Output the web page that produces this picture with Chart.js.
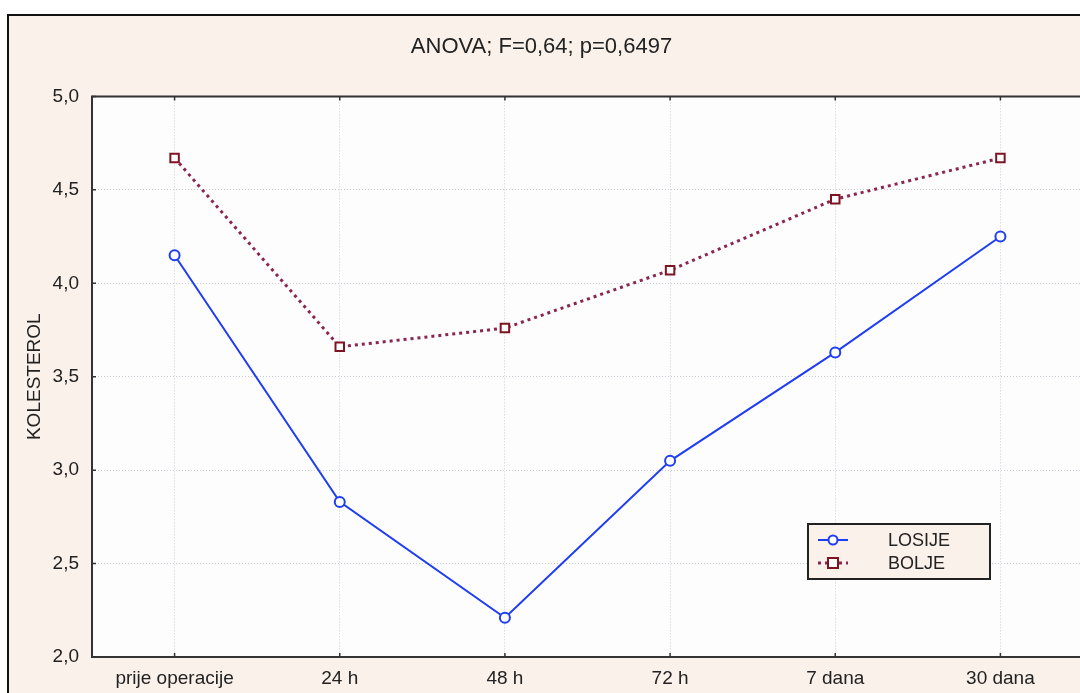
<!DOCTYPE html>
<html>
<head>
<meta charset="utf-8">
<script src="https://cdn.jsdelivr.net/npm/chart.js@4"></script>
<style>
  html, body { margin: 0; padding: 0; background: #fff; overflow: hidden; }
  #wrap { position: absolute; left: 0; top: 0; width: 1080px; height: 693px; overflow: hidden; }
</style>
</head>
<body>
<div id="wrap"><canvas id="myChart" width="1100" height="693"></canvas></div>
<script>
const categories = ['prije operacije', '24 h', '48 h', '72 h', '7 dana', '30 dana'];
const losije = [4.15, 2.83, 2.21, 3.05, 3.63, 4.25];
const bolje = [4.67, 3.66, 3.76, 4.07, 4.45, 4.67];
const yTicks = [2.0, 2.5, 3.0, 3.5, 4.0, 4.5, 5.0];

const BEIGE = '#faf1ea';
const FONT = 'Arial, "Liberation Sans", sans-serif';

// background, plot frame and inward tick marks
const framePlugin = {
  id: 'frame',
  beforeDraw(chart) {
    const c = chart.ctx;
    const a = chart.chartArea;
    c.save();
    c.fillStyle = '#fff';
    c.fillRect(0, 0, chart.width, chart.height);
    c.fillStyle = BEIGE;
    c.fillRect(8, 15, chart.width, chart.height);
    c.strokeStyle = '#111';
    c.lineWidth = 2;
    c.beginPath();
    c.moveTo(8, chart.height);
    c.lineTo(8, 15);
    c.lineTo(chart.width, 15);
    c.stroke();
    c.fillStyle = '#fdfdfd';
    c.fillRect(a.left, a.top, a.right - a.left, a.bottom - a.top);
    c.restore();
  },
  afterDatasetsDraw(chart) {
    const c = chart.ctx;
    const a = chart.chartArea;
    const x = chart.scales.x, y = chart.scales.y;
    c.save();
    c.strokeStyle = '#333';
    c.lineWidth = 2;
    c.beginPath();
    c.moveTo(a.right, a.top);
    c.lineTo(a.left, a.top);
    c.lineTo(a.left, a.bottom);
    c.lineTo(a.right, a.bottom);
    c.stroke();
    c.lineWidth = 1.5;
    c.beginPath();
    categories.forEach((_, i) => {
      const px = x.getPixelForValue(i);
      c.moveTo(px, a.bottom); c.lineTo(px, a.bottom - 4);
      c.moveTo(px, a.top); c.lineTo(px, a.top + 4);
    });
    yTicks.forEach(v => {
      const py = y.getPixelForValue(v);
      c.moveTo(a.left, py); c.lineTo(a.left + 4, py);
    });
    c.stroke();
    c.restore();
  },
  afterDraw(chart) {
    // legend box inside plot
    const c = chart.ctx;
    const bx = 808, by = 524, bw = 182, bh = 55;
    c.save();
    c.fillStyle = BEIGE;
    c.fillRect(bx, by, bw, bh);
    c.strokeStyle = '#222';
    c.lineWidth = 2;
    c.strokeRect(bx, by, bw, bh);
    chart.data.datasets.forEach((ds, i) => {
      const ly = by + 16 + i * 23;
      c.strokeStyle = ds.borderColor;
      c.lineWidth = ds.borderWidth;
      c.setLineDash(ds.borderDash || []);
      c.beginPath();
      c.moveTo(bx + 10, ly); c.lineTo(bx + 40, ly);
      c.stroke();
      c.setLineDash([]);
      c.fillStyle = '#fff';
      c.strokeStyle = ds.pointBorderColor;
      c.lineWidth = 2;
      if (ds.pointStyle === 'rect') {
        c.fillRect(bx + 20, ly - 5, 10, 10);
        c.strokeRect(bx + 20, ly - 5, 10, 10);
      } else {
        c.beginPath();
        c.arc(bx + 25, ly, 4.5, 0, Math.PI * 2);
        c.fill(); c.stroke();
      }
      c.fillStyle = '#222';
      c.font = '18px ' + FONT;
      c.textBaseline = 'middle';
      c.fillText(ds.label, bx + 80, ly + 1);
    });
    c.restore();
  }
};

const ctx = document.querySelector('#myChart').getContext('2d');
const myChart = new Chart(ctx, {
  type: 'line',
  data: {
    labels: categories,
    datasets: [{
      label: 'LOSIJE',
      data: losije,
      borderColor: '#1f3df2',
      borderWidth: 2,
      pointStyle: 'circle',
      pointRadius: 5,
      pointBorderWidth: 2,
      pointBorderColor: '#1f3df2',
      pointBackgroundColor: '#fff',
      tension: 0
    }, {
      label: 'BOLJE',
      data: bolje,
      borderColor: '#8a2450',
      borderWidth: 3,
      borderDash: [3, 4],
      pointStyle: 'rect',
      pointRadius: 6,
      pointBorderWidth: 2,
      pointBorderColor: '#7e1422',
      pointBackgroundColor: '#fff',
      tension: 0
    }]
  },
  options: {
    responsive: false,
    animation: false,
    devicePixelRatio: 1,
    layout: { padding: { left: 0, right: 17, top: 0, bottom: 0 } },
    plugins: {
      legend: { display: false },
      tooltip: { enabled: false },
      title: {
        display: true,
        text: 'ANOVA; F=0,64; p=0,6497',
        color: '#222',
        font: { family: FONT, size: 22, weight: 'normal', lineHeight: 1.2 },
        padding: { top: 34, bottom: 36 }
      }
    },
    scales: {
      x: {
        offset: true,
        grid: { color: '#c9ced6', lineWidth: 1, drawTicks: false },
        border: { display: false, dash: [1, 2] },
        ticks: { color: '#222', font: { family: FONT, size: 19 }, padding: 10, maxRotation: 0 },
        afterFit(scale) { scale.height = 36; }
      },
      y: {
        min: 2, max: 5,
        afterBuildTicks(scale) { scale.ticks = yTicks.map(v => ({ value: v })); },
        grid: { color: '#c9ced6', lineWidth: 1, drawTicks: false },
        border: { display: false, dash: [1, 2] },
        ticks: {
          color: '#222',
          font: { family: FONT, size: 19 },
          padding: 13,
          callback: v => v.toFixed(1).replace('.', ',')
        },
        title: {
          display: true,
          text: 'KOLESTEROL',
          color: '#222',
          font: { family: FONT, size: 19, lineHeight: 1.2 },
          padding: { top: 23, bottom: 0 }
        },
        afterFit(scale) { scale.width = 92; }
      }
    }
  },
  plugins: [framePlugin]
});
</script>
</body>
</html>
